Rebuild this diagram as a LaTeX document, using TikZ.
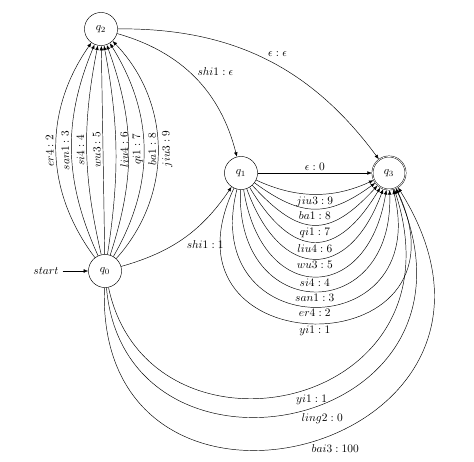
\documentclass[tikz,border=0pt]{standalone}
\usetikzlibrary{automata,arrows.meta}
\begin{document}
\begin{tikzpicture}[x=0.877pt,y=0.877pt,
  every state/.style={draw,circle,minimum size=29pt,inner sep=0pt},
  e/.style={-{Latex[length=4pt,width=3.2pt]},auto},
  lab/.style={inner sep=2pt},
  vlab/.style={inner sep=2pt,sloped,allow upside down},
  vlabr/.style={inner sep=3.5pt,sloped,allow upside down}]
\useasboundingbox (0,0) rectangle (474,461);
\node[state] (q2) at (101,432) {$q_2$};
\node[state] (q0) at (105,190) {$q_0$};
\node[state] (q1) at (241,288) {$q_1$};
\node[state,accepting] (q3) at (389,288) {$q_3$};
\node (start) at (46,190) {$start$};
\draw[e] (start) -- (q0);
% q0 -> q2
\draw[e] (q0) to[bend left=36] node[vlab,above] {$er4:2$} (q2);
\draw[e] (q0) to[bend left=23.5] node[vlab,above] {$san1:3$} (q2);
\draw[e] (q0) to[bend left=12] node[vlab,above] {$si4:4$} (q2);
\draw[e] (q0) to node[vlab,above] {$wu3:5$} (q2);
\draw[e] (q0) to[bend right=9.5] node[vlabr,below] {$liu4:6$} (q2);
\draw[e] (q0) to[bend right=19] node[vlabr,below] {$qi1:7$} (q2);
\draw[e] (q0) to[bend right=31] node[vlabr,below] {$ba1:8$} (q2);
\draw[e] (q0) to[bend right=43] node[vlabr,below] {$jiu3:9$} (q2);
% others
\draw[e] (q0) to[bend right=20] node[lab,swap] {$shi1:1$} (q1);
\draw[e] (q2) to[bend left=30] node[lab] {$shi1:\epsilon$} (q1);
\draw[e] (q2) to[bend left=27] node[lab] {$\epsilon:\epsilon$} (q3);
\draw[e] (q1) -- node[lab,above] {$\epsilon:0$} (q3);
% q1 -> q3 arcs
\draw[e] (q1) to[bend right=25,looseness=0.97] node[lab,swap] {$jiu3:9$} (q3);
\draw[e] (q1) to[bend right=36,looseness=1.25] node[lab,swap] {$ba1:8$} (q3);
\draw[e] (q1) to[bend right=47.5,looseness=1.46] node[lab,swap] {$qi1:7$} (q3);
\draw[e] (q1) to[bend right=59,looseness=1.66] node[lab,swap] {$liu4:6$} (q3);
\draw[e] (q1) to[bend right=70,looseness=1.86] node[lab,swap] {$wu3:5$} (q3);
\draw[e] (q1) to[bend right=81,looseness=2.10] node[lab,swap] {$si4:4$} (q3);
\draw[e] (q1) to[bend right=92,looseness=2.32] node[lab,swap] {$san1:3$} (q3);
\draw[e] (q1) to[bend right=104,looseness=2.64] node[lab,swap] {$er4:2$} (q3);
\draw[e] (q1) to[bend right=115,looseness=3.13] node[lab,swap] {$yi1:1$} (q3);
% q0 -> q3 arcs
\draw[e] (q0) to[out=-78,in=-72,out distance=168pt,in distance=207pt] node[lab,pos=0.5,swap] {$yi1:1$} (q3);
\draw[e] (q0) to[out=-85,in=-66,out distance=192pt,in distance=234pt] node[lab,pos=0.5,swap] {$ling2:0$} (q3);
\draw[e] (q0) to[out=-92,in=-58,out distance=248pt,in distance=272pt] node[lab,pos=0.5,swap] {$bai3:100$} (q3);
\end{tikzpicture}
\end{document}
